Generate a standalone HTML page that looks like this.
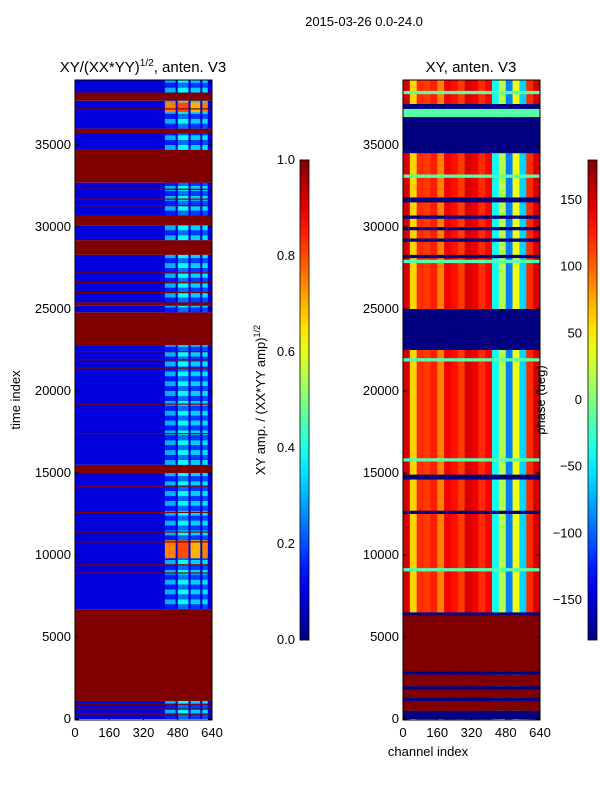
<!DOCTYPE html>
<html><head><meta charset="utf-8"><style>
body{margin:0;background:#fff;width:600px;height:800px;overflow:hidden}
svg text{font-family:"Liberation Sans",sans-serif;fill:#000}
</style></head><body>
<svg id="fig" width="600" height="800" xmlns="http://www.w3.org/2000/svg">
<defs>
<linearGradient id="jetg" x1="0" y1="1" x2="0" y2="0"></linearGradient>
<clipPath id="clipL"><rect x="75" y="80" width="137" height="640"/></clipPath>
<clipPath id="clipR"><rect x="403" y="80" width="137" height="640"/></clipPath>
</defs>
<text x="364" y="26" font-size="13" text-anchor="middle">2015-03-26 0.0-24.0</text>
<text x="143" y="72" font-size="15" text-anchor="middle">XY/(XX*YY)<tspan font-size="10" dy="-6">1/2</tspan><tspan dy="6">, anten. V3</tspan></text>
<text x="471" y="72" font-size="15" text-anchor="middle">XY, anten. V3</text>
<g id="heatL" clip-path="url(#clipL)"></g>
<g id="heatR" clip-path="url(#clipR)"></g>
<rect x="75" y="80" width="137" height="640" fill="none" stroke="#000" stroke-width="1"/>
<rect x="403" y="80" width="137" height="640" fill="none" stroke="#000" stroke-width="1"/>
<g id="axes"></g>
<text transform="translate(20,400) rotate(-90)" font-size="13" text-anchor="middle">time index</text>
<text x="428" y="756" font-size="13" text-anchor="middle">channel index</text>
<rect x="300" y="160" width="9" height="480" fill="url(#jetg)" stroke="#000" stroke-width="0.8"/>
<rect x="588" y="160" width="9" height="480" fill="url(#jetg)" stroke="#000" stroke-width="0.8"/>
<text transform="translate(265,400) rotate(-90)" font-size="13" text-anchor="middle">XY amp. / (XX*YY amp)<tspan font-size="9" dy="-5">1/2</tspan></text>
<text transform="translate(545,400) rotate(-90)" font-size="13" text-anchor="middle">phase (deg)</text>
</svg>
<script>
// ---- data ----
const yTicks=[0,5000,10000,15000,20000,25000,30000,35000];
const xTicks=[0,160,320,480,640];
const cbLTicks=[0.0,0.2,0.4,0.6,0.8,1.0];
const cbRTicks=[-150,-100,-50,0,50,100,150];
const ampStart=[0,1100,6700,15000,15500,22800,24800,25200,25400,28300,29200,30100,30700,32700,34700,35700,36000,37700,38200];
const ampEnd  =[1100,6700,15000,15500,22800,24800,25200,25400,28300,29200,30100,30700,32700,34700,35700,36000,37700,38200,39000];
const ampVal  =[0.09,1,0.09,1,0.09,1,0.09,1,0.09,1,0.09,1,0.09,1,0.09,1,0.09,1,0.09];
const ampStripes=[300,600,900,8900,9400,10800,11400,12600,14200,17400,19200,21400,21900,22400,26000,26600,27200,31300,31700,32300,37200];
const colStart=[420,480,540,595];
const colEnd  =[470,530,585,620];
const colValA =[0.3,0.38,0.33,0.35];
const colValB =[0.75,0.8,0.7,0.75];
const brightStart=[9800,10200,37000];
const brightEnd  =[10900,10600,37600];
const phaseProfile=[150,60,120,115,125,90,140,130,115,150,140,120,135,-40,20,-90,40,-60,120,150];
const navyStart=[0,1100,1800,2700,6300,12500,14600,22500,28100,29100,29800,30500,31500,34500,35300,37200];
const navyEnd  =[500,1300,2000,2900,6500,12700,14900,25000,28300,29300,30000,30700,31800,36700,35500,37500];
const redStart=[500,1300,2000,2900];
const redEnd  =[1100,1800,2700,6300];
const greenStart=[9000,15700,21800,27800,33000,36700,38100];
const greenEnd  =[9200,15900,22000,28000,33200,37400,38300];

const yS=t=>719-t*0.0164;
const xL=c=>75+c*137/640, xR=c=>403+c*137/640;
function jet(v){v=Math.max(0,Math.min(1,v));
 const cl=x=>Math.max(0,Math.min(1,x));
 const r=cl(Math.min(4*v-1.5,-4*v+4.5)),g=cl(Math.min(4*v-0.5,-4*v+3.5)),b=cl(Math.min(4*v+0.5,-4*v+2.5));
 return `rgb(${Math.round(r*255)},${Math.round(g*255)},${Math.round(b*255)})`;}
const ph=d=>(d+180)/360;
const NS='http://www.w3.org/2000/svg';
function rect(par,x,y,w,h,fill,name){const r=document.createElementNS(NS,'rect');
 r.setAttribute('x',x);r.setAttribute('y',y);r.setAttribute('width',Math.max(w,0.5));r.setAttribute('height',Math.max(h,0.6));r.setAttribute('fill',fill);
 
 
 par.appendChild(r);return r;}
function txt(x,y,s,anchor,name){const t=document.createElementNS(NS,'text');
 t.setAttribute('x',x);t.setAttribute('y',y);t.setAttribute('font-size','13');t.setAttribute('text-anchor',anchor);t.textContent=s;
 
 
 document.getElementById('axes').appendChild(t);}
function line(x1,y1,x2,y2,name){const l=document.createElementNS(NS,'line');
 l.setAttribute('x1',x1);l.setAttribute('y1',y1);l.setAttribute('x2',x2);l.setAttribute('y2',y2);l.setAttribute('stroke','#000');
 
 
 document.getElementById('axes').appendChild(l);}

const g=document.getElementById('jetg');
for(let i=0;i<=20;i++){const s=document.createElementNS(NS,'stop');s.setAttribute('offset',i/20);s.setAttribute('stop-color',jet(i/20));g.appendChild(s);}

const HL=document.getElementById('heatL');
ampStart.forEach((s,i)=>{const e=ampEnd[i];
 rect(HL,75,yS(e),137,yS(s)-yS(e),jet(ampVal[i]),'amp-band');
 if(ampVal[i]<0.5){
  for(let t=s;t<e;t+=300){const k=Math.floor(t/300)%2;
   colStart.forEach((c,j)=>{rect(HL,xL(c),yS(Math.min(t+300,e)),xL(colEnd[j])-xL(c),yS(t)-yS(Math.min(t+300,e)),jet(k?colValA[j]:colValA[j]-0.15),'amp-column-cell');});}
 }});
brightStart.forEach((s,i)=>{colStart.forEach((c,j)=>{rect(HL,xL(c),yS(brightEnd[i]),xL(colEnd[j])-xL(c),yS(s)-yS(brightEnd[i]),jet(colValB[j]),'amp-bright-cell');});});
ampStripes.forEach(t=>rect(HL,75,yS(t)-0.6,137,1.2,jet(1),'amp-stripe'));

const HR=document.getElementById('heatR');
phaseProfile.forEach((d,i)=>rect(HR,xR(i*32),80,xR(32)-xR(0)+0.3,640,jet(ph(d)),'phase-column'));
redStart.forEach((s,i)=>rect(HR,403,yS(redEnd[i]),137,yS(s)-yS(redEnd[i]),jet(1),'phase-red-band'));
greenStart.forEach((s,i)=>rect(HR,403,yS(greenEnd[i]),137,yS(s)-yS(greenEnd[i]),jet(ph(-15)),'phase-green-band'));
navyStart.forEach((s,i)=>rect(HR,403,yS(navyEnd[i]),137,yS(s)-yS(navyEnd[i]),jet(0),'phase-navy-band'));

yTicks.forEach(t=>{const y=yS(t);
 line(75,y,79,y,'left-y-tick');line(208,y,212,y,'left-y-tick');line(403,y,407,y,'right-y-tick');line(536,y,540,y,'right-y-tick');
 txt(71,y+4,t,'end','left-y-tick-label');txt(399,y+4,t,'end','right-y-tick-label');});
xTicks.forEach(c=>{line(xL(c),720,xL(c),716,'left-x-tick');line(xR(c),720,xR(c),716,'right-x-tick');
 txt(xL(c),737,c,'middle','left-x-tick-label');txt(xR(c),737,c,'middle','right-x-tick-label');});
cbLTicks.forEach(v=>{const y=640-v*480;line(300,y,303,y,'left-cbar-tick');line(306,y,309,y,'left-cbar-tick');txt(295,y+4,v.toFixed(1),'end','left-cbar-tick-label');});
cbRTicks.forEach(v=>{const y=640-ph(v)*480;line(588,y,591,y,'right-cbar-tick');line(594,y,597,y,'right-cbar-tick');txt(582,y+4,v===0?'0':(v<0?'\u2212'+(-v):v),'end','right-cbar-tick-label');});
</script>
</body></html>
